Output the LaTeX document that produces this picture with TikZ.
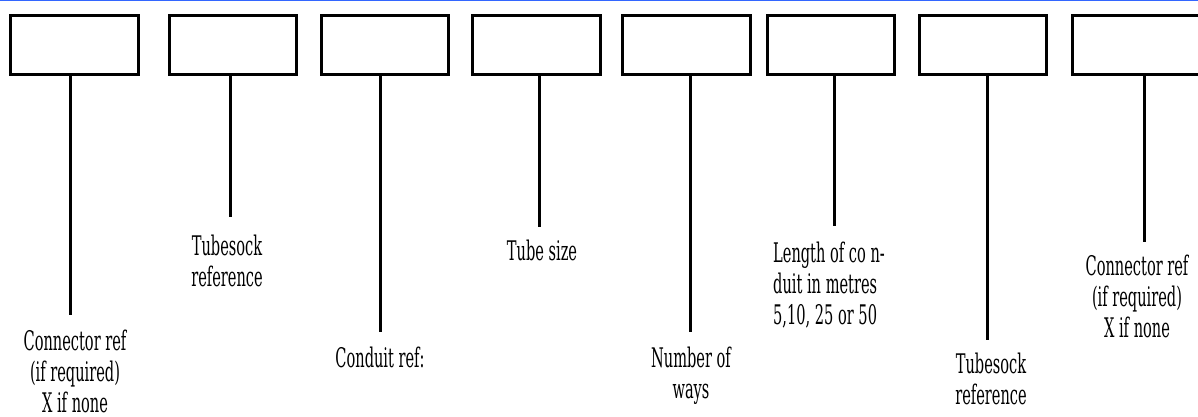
\documentclass[tikz,border=0pt]{standalone}
\usepackage{fontspec}
\setmainfont{DejaVu Serif}[FakeStretch=0.54]
\usepackage{tikz}
\definecolor{rulebl}{RGB}{51,102,255}

\begin{document}
\begin{tikzpicture}[x=1pt, y=-1pt,
  box/.style={rectangle, draw, black, line width=3pt, minimum width=127.5pt, minimum height=59pt, inner sep=0pt},
  lbl/.style={align=center, anchor=north, inner sep=0pt, font=\fontsize{27}{31}\selectfont},
  stem/.style={line width=3pt}]
\useasboundingbox (0,0) rectangle (1198,417);
\draw[rulebl, line width=1.5pt] (0,0.75) -- (1198,0.75);

\draw
(74.25, 45) node[box](b1){}
(233, 45) node[box](b2){}
(384.75, 45) node[box](b3){}
(536.25, 45) node[box](b4){}
(686.7, 45) node[box](b5){}
(830.85, 45) node[box](b6){}
(983, 45) node[box](b7){}
(1136.25, 45) node[box](b8){};

\coordinate (e1) at (70, 315);
\coordinate (e2) at (230, 217);
\coordinate (e3) at (380.3, 332);
\coordinate (e4) at (539, 227);
\coordinate (e5) at (690.3, 332);
\coordinate (e6) at (834.3, 226);
\coordinate (e7) at (987, 340);
\coordinate (e8) at (1144, 242);

\node[lbl] (t1) at (75, 330) {Connector ref\\(if required)\\X if none};
\node[lbl] (t2) at (227, 235) {Tubesock\\reference};
\node[lbl] (t3) at (380, 347) {Conduit ref:};
\node[lbl] (t4) at (542, 240) {Tube size};
\node[lbl] (t5) at (691, 347) {Number of\\ways};
\node[lbl, align=left, anchor=north west] (t6) at (773, 242) {Length of co n-\\duit in metres\\5,10, 25 or 50};
\node[lbl] (t7) at (991, 353) {Tubesock\\reference};
\node[lbl] (t8) at (1137, 255) {Connector ref\\(if required)\\X if none};

\draw[stem] (b1.south -| e1) -- (e1);
\draw[stem] (b2.south -| e2) -- (e2);
\draw[stem] (b3.south -| e3) -- (e3);
\draw[stem] (b4.south -| e4) -- (e4);
\draw[stem] (b5.south -| e5) -- (e5);
\draw[stem] (b6.south -| e6) -- (e6);
\draw[stem] (b7.south -| e7) -- (e7);
\draw[stem] (b8.south -| e8) -- (e8);

\end{tikzpicture}
\end{document}
